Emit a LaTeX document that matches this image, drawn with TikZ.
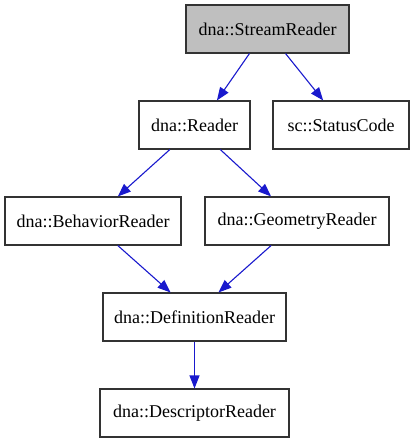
\documentclass[tikz,border=0pt]{standalone}
\usepackage{fontspec}
\setmainfont{Liberation Serif}
\usepackage{xcolor}
\usetikzlibrary{calc,arrows.meta}

\definecolor{edgeblue}{RGB}{25,25,205}

\begin{document}
\begin{tikzpicture}[x=1pt,y=-1pt,
		cls/.style={draw=black!80, line width=1.1pt, rectangle, inner sep=0pt, minimum height=48pt, font=\fontsize{18}{20}\selectfont},
		dep/.style={draw=edgeblue, line width=1.1pt, -{Triangle[length=13pt,width=10pt]}}]
			\useasboundingbox (0,0) rectangle (414,443);
			\node[cls, fill=black!25, minimum width=163pt] (streamreader) at (267.5,29) {dna::StreamReader};
			\node[cls, minimum width=111pt] (reader) at (194.5,125) {dna::Reader};
			\node[cls, minimum width=136pt] (statuscode) at (341,125) {sc::StatusCode};
			\node[cls, minimum width=176pt] (behavior) at (93,221) {dna::BehaviorReader};
			\node[cls, minimum width=184pt] (geometry) at (297,221) {dna::GeometryReader};
			\node[cls, minimum width=183pt] (definition) at (194.5,317) {dna::DefinitionReader};
			\node[cls, minimum width=189pt] (descriptor) at (194.5,413) {dna::DescriptorReader};
			% edges
			\draw[dep] ($(streamreader.south west)!0.39!(streamreader.south east)$) -- ($(reader.north west)!0.70!(reader.north east)$);
			\draw[dep] ($(streamreader.south west)!0.61!(streamreader.south east)$) -- ($(statuscode.north west)!0.37!(statuscode.north east)$);
			\draw[dep] ($(reader.south west)!0.28!(reader.south east)$) -- ($(behavior.north west)!0.64!(behavior.north east)$);
			\draw[dep] ($(reader.south west)!0.73!(reader.south east)$) -- ($(geometry.north west)!0.36!(geometry.north east)$);
			\draw[dep] ($(behavior.south west)!0.64!(behavior.south east)$) -- ($(definition.north west)!0.37!(definition.north east)$);
			\draw[dep] ($(geometry.south west)!0.36!(geometry.south east)$) -- ($(definition.north west)!0.63!(definition.north east)$);
			\draw[dep] (definition.south) -- (descriptor.north);
		\end{tikzpicture}
\end{document}
